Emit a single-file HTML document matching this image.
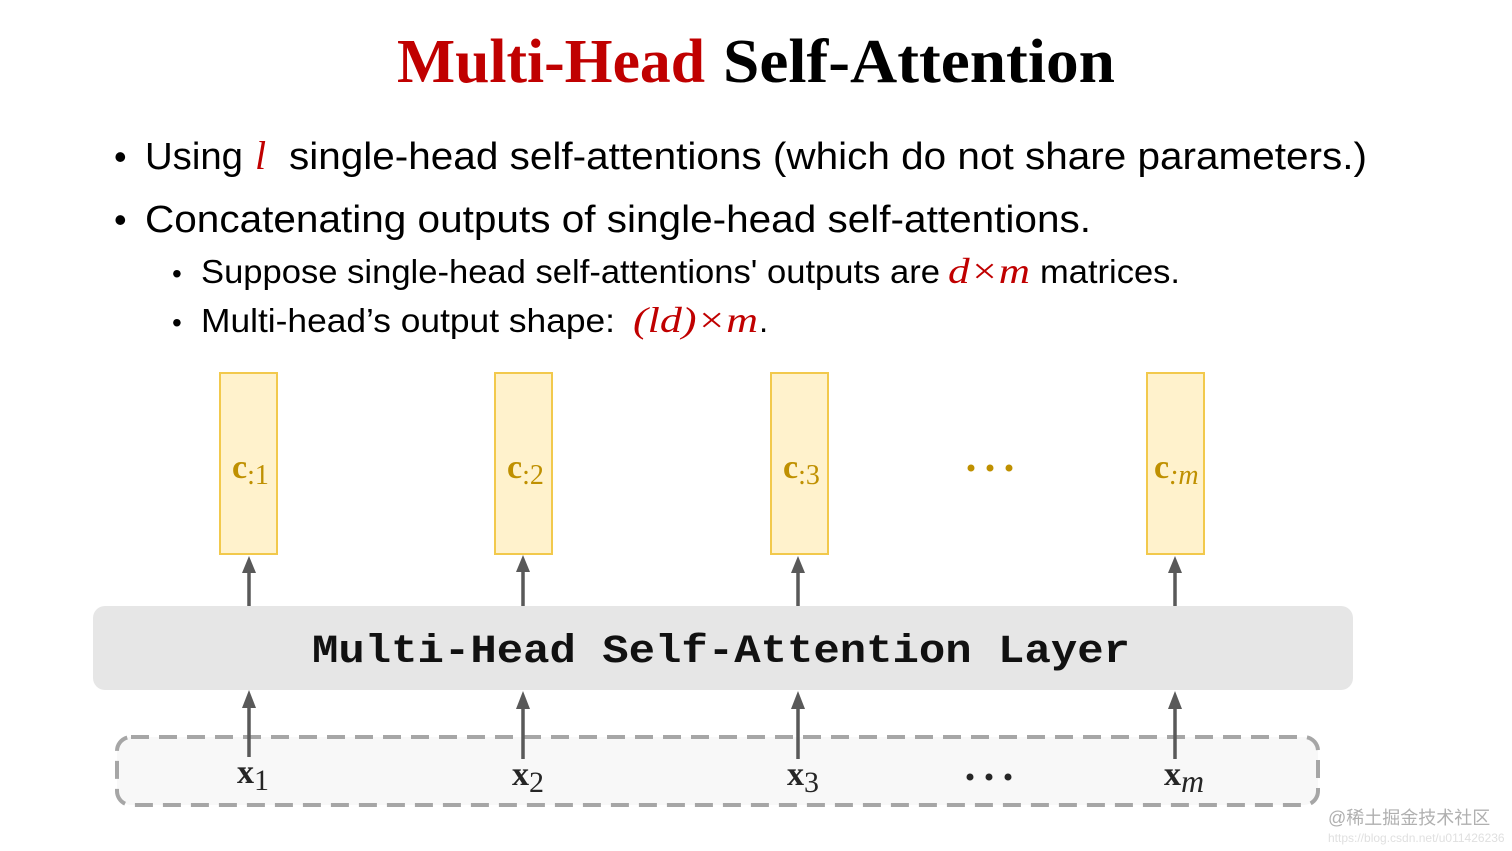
<!DOCTYPE html>
<html><head><meta charset="utf-8"><style>
html,body{margin:0;padding:0;background:#fff;}
svg{display:block;}
.s{font-family:"Liberation Sans",sans-serif;}
.m{font-family:"Liberation Serif",serif;font-style:italic;fill:#c00000;}
</style></head><body>
<svg width="1512" height="851" viewBox="0 0 1512 851" xmlns="http://www.w3.org/2000/svg">
<!-- title -->
<text x="397" y="82" font-family="Liberation Serif,serif" font-weight="bold" font-size="62" fill="#c00000" textLength="308" lengthAdjust="spacingAndGlyphs">Multi-Head</text>
<text x="723" y="82" font-family="Liberation Serif,serif" font-weight="bold" font-size="62" fill="#000" textLength="392" lengthAdjust="spacingAndGlyphs">Self-Attention</text>
<!-- bullets -->
<g class="s" fill="#000">
<text x="114" y="169" font-size="36">•</text>
<text x="145" y="169" font-size="38" textLength="98" lengthAdjust="spacingAndGlyphs">Using</text>
<text x="289" y="169" font-size="38" textLength="1078" lengthAdjust="spacingAndGlyphs">single-head self-attentions (which do not share parameters.)</text>
<text x="114" y="232" font-size="36">•</text>
<text x="145" y="232" font-size="38" textLength="946" lengthAdjust="spacingAndGlyphs">Concatenating outputs of single-head self-attentions.</text>
<text x="172" y="283" font-size="28">•</text>
<text x="201" y="283" font-size="33" textLength="739" lengthAdjust="spacingAndGlyphs">Suppose single-head self-attentions' outputs are</text>
<text x="1040" y="283" font-size="33" textLength="140" lengthAdjust="spacingAndGlyphs">matrices.</text>
<text x="172" y="332" font-size="28">•</text>
<text x="201" y="332" font-size="33" textLength="414" lengthAdjust="spacingAndGlyphs">Multi-head’s output shape:</text>
<text x="759" y="332" font-size="33">.</text>
</g>
<text class="m" x="255" y="169" font-size="40">l</text>
<text class="m" x="948" y="283" font-size="36" textLength="82" lengthAdjust="spacingAndGlyphs">d×m</text>
<text class="m" x="633" y="332" font-size="36" textLength="125" lengthAdjust="spacingAndGlyphs">(ld)×m</text>
<!-- output boxes -->
<g fill="#fff2cc" stroke="#f2c94c" stroke-width="2">
<rect x="220" y="373" width="57" height="181"/>
<rect x="495" y="373" width="57" height="181"/>
<rect x="771" y="373" width="57" height="181"/>
<rect x="1147" y="373" width="57" height="181"/>
</g>
<g font-family="Liberation Serif,serif" fill="#bf9000">
<text x="232" y="478" font-size="34" font-weight="bold">c<tspan font-size="28" font-weight="normal" dy="6">:1</tspan></text>
<text x="507" y="478" font-size="34" font-weight="bold">c<tspan font-size="28" font-weight="normal" dy="6">:2</tspan></text>
<text x="783" y="478" font-size="34" font-weight="bold">c<tspan font-size="28" font-weight="normal" dy="6">:3</tspan></text>
<text x="1154" y="478" font-size="34" font-weight="bold">c<tspan font-size="28" font-weight="normal" font-style="italic" dy="6">:m</tspan></text>
</g>
<g fill="#bf9000"><circle cx="971" cy="468" r="3.5"/><circle cx="990" cy="468" r="3.5"/><circle cx="1009" cy="468" r="3.5"/></g>
<!-- layer -->
<rect x="93" y="606" width="1260" height="84" rx="12" fill="#e6e6e6"/>
<text x="312" y="662" font-family="Liberation Mono,monospace" font-weight="bold" font-size="40" fill="#111" textLength="818" lengthAdjust="spacingAndGlyphs">Multi-Head Self-Attention Layer</text>
<!-- dashed input -->
<rect x="117" y="737" width="1201" height="68" rx="14" fill="#f8f8f8" stroke="#a6a6a6" stroke-width="4" stroke-dasharray="18 10"/>
<!-- arrows -->
<g stroke="#595959" stroke-width="3.5">
<line x1="249" y1="606" x2="249" y2="570"/>
<line x1="523" y1="606" x2="523" y2="570"/>
<line x1="798" y1="606" x2="798" y2="570"/>
<line x1="1175" y1="606" x2="1175" y2="570"/>
<line x1="249" y1="757" x2="249" y2="705"/>
<line x1="523" y1="759" x2="523" y2="705"/>
<line x1="798" y1="759" x2="798" y2="705"/>
<line x1="1175" y1="759" x2="1175" y2="705"/>
</g>
<g fill="#595959">
<polygon points="249,556 242,573 256,573"/>
<polygon points="523,555 516,572 530,572"/>
<polygon points="798,556 791,573 805,573"/>
<polygon points="1175,556 1168,573 1182,573"/>
<polygon points="249,690 242,708 256,708"/>
<polygon points="523,691 516,709 530,709"/>
<polygon points="798,691 791,709 805,709"/>
<polygon points="1175,691 1168,709 1182,709"/>
</g>
<g font-family="Liberation Serif,serif" fill="#262626">
<text x="237" y="783" font-size="34" font-weight="bold">x<tspan font-size="30" font-weight="normal" dy="7">1</tspan></text>
<text x="512" y="785" font-size="34" font-weight="bold">x<tspan font-size="30" font-weight="normal" dy="7">2</tspan></text>
<text x="787" y="785" font-size="34" font-weight="bold">x<tspan font-size="30" font-weight="normal" dy="7">3</tspan></text>
<text x="1164" y="785" font-size="34" font-weight="bold">x<tspan font-size="32" font-weight="normal" font-style="italic" dy="7">m</tspan></text>
</g>
<g fill="#262626"><circle cx="970" cy="777" r="3.5"/><circle cx="989" cy="777" r="3.5"/><circle cx="1008" cy="777" r="3.5"/></g>
<!-- watermark -->
<text x="1328" y="824" font-family="Liberation Sans,'Noto Sans CJK SC',sans-serif" font-size="18" fill="#b0b0b0">@稀土掘金技术社区</text>
<text x="1328" y="842" font-family="Liberation Sans,sans-serif" font-size="12" fill="#e0e0e0">https://blog.csdn.net/u011426236</text>
</svg>
</body></html>
